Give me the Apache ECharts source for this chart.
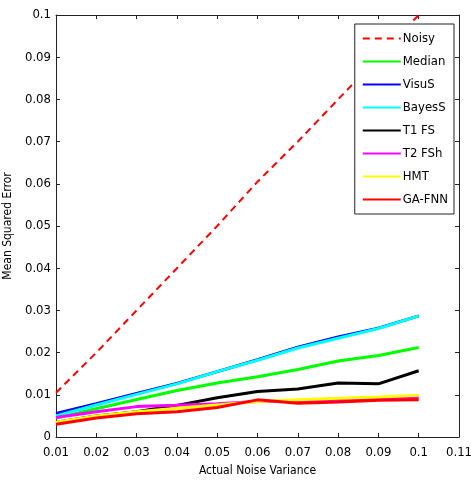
<!DOCTYPE html>
<html>
<head>
<meta charset="utf-8">
<script src="https://cdn.jsdelivr.net/npm/echarts@6/dist/echarts.min.js"></script>
<style>
  html, body { margin: 0; padding: 0; background: #fff; }
  #chart { width: 471px; height: 482px; }
</style>
</head>
<body>
<div id="chart"></div>
<script>
// noise variance on x
const variance = [0.01, 0.02, 0.03, 0.04, 0.05, 0.06, 0.07, 0.08, 0.09, 0.1];

// MSE per method
const noisy = [0.0105, 0.02, 0.03, 0.04, 0.05, 0.0605, 0.07, 0.08, 0.09, 0.1];
const median = [0.0045, 0.0067, 0.0089, 0.011, 0.0128, 0.0143, 0.016, 0.018, 0.0193, 0.0212];
const visuS = [0.0056, 0.0079, 0.0103, 0.0127, 0.0155, 0.0183, 0.0213, 0.0237, 0.0258, 0.0287];
const bayesS = [0.005, 0.0076, 0.0101, 0.0126, 0.0155, 0.0182, 0.0211, 0.0234, 0.0257, 0.0287];
const t1fs = [0.0035, 0.005, 0.006, 0.0075, 0.0093, 0.0108, 0.0114, 0.0128, 0.0126, 0.0157];
const t2fsh = [0.0046, 0.006, 0.0072, 0.0075, 0.0079, 0.0084, 0.0086, 0.0088, 0.009, 0.0094];
const hmt = [0.0035, 0.005, 0.006, 0.0068, 0.0076, 0.0084, 0.0088, 0.0092, 0.0095, 0.0099];
const gaFnn = [0.003, 0.0045, 0.0055, 0.006, 0.007, 0.0088, 0.008, 0.0083, 0.0087, 0.0088];

const seriesNames = ['Noisy', 'Median', 'VisuS', 'BayesS', 'T1 FS', 'T2 FSh', 'HMT', 'GA-FNN'];
const seriesValues = [noisy, median, visuS, bayesS, t1fs, t2fsh, hmt, gaFnn];
const seriesColors = ['#ff0000', '#00ff00', '#0000ff', '#00ffff', '#000000', '#ff00ff', '#ffff00', '#ff0000'];

const chart = echarts.init(document.getElementById('chart'));

const fmt = (v) => String(+v.toFixed(2));
const font = '"Liberation Sans Narrow", "DejaVu Sans Condensed", "Liberation Sans", sans-serif';

const series = seriesNames.map((name, i) => ({
  name: name,
  type: 'line',
  symbol: 'none',
  animation: false,
  data: variance.map((x, j) => [x, seriesValues[i][j]]),
  lineStyle: {
    color: seriesColors[i],
    width: i === 0 ? 2 : 3,
    type: i === 0 ? [7, 5] : 'solid',
  },
  itemStyle: { color: seriesColors[i] },
}));

const baseAxis = {
  type: 'value',
  axisLine: { show: true, onZero: false, lineStyle: { color: '#222', width: 1 } },
  axisTick: { show: true, inside: true, length: 4, lineStyle: { color: '#222' } },
  splitLine: { show: false },
};

const option = {
  backgroundColor: '#fff',
  animation: false,
  grid: { left: 56, right: 12, top: 15, bottom: 45, outerBoundsMode: 'none', containLabel: false },
  legend: {
    orient: 'vertical',
    right: 17,
    top: 24,
    padding: [8, 6, 8, 7],
    itemWidth: 38,
    itemHeight: 13,
    itemGap: 10,
    borderColor: '#222',
    borderWidth: 1,
    backgroundColor: '#fff',
    itemStyle: { opacity: 0 },
    textStyle: { fontFamily: font, fontSize: 13, color: '#000', padding: [0, 0, 0, -3] },
    data: seriesNames,
  },
  xAxis: [
    Object.assign({}, baseAxis, {
      position: 'bottom',
      min: 0.01, max: 0.11, interval: 0.01,
      name: 'Actual Noise Variance',
      nameLocation: 'middle',
      nameGap: 28,
      nameTextStyle: { fontFamily: font, fontSize: 12, color: '#000' },
      axisLabel: { formatter: fmt, fontFamily: font, fontSize: 13, color: '#000', margin: 9 },
    }),
    Object.assign({}, baseAxis, {
      position: 'top',
      min: 0.01, max: 0.11, interval: 0.01,
      axisLabel: { show: false },
    }),
  ],
  yAxis: [
    Object.assign({}, baseAxis, {
      position: 'left',
      min: 0, max: 0.1, interval: 0.01,
      name: 'Mean Squared Error',
      nameLocation: 'middle',
      nameGap: 42,
      nameTextStyle: { fontFamily: font, fontSize: 12, color: '#000' },
      axisLabel: { formatter: fmt, fontFamily: font, fontSize: 13, color: '#000', margin: 5 },
    }),
    Object.assign({}, baseAxis, {
      position: 'right',
      min: 0, max: 0.1, interval: 0.01,
      axisLabel: { show: false },
    }),
  ],
  series: series,
};

chart.setOption(option);
</script>
</body>
</html>
